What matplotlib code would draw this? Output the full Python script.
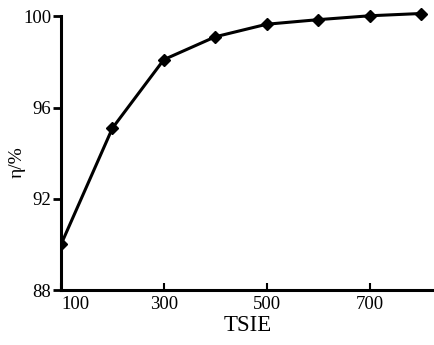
import matplotlib
matplotlib.use('Agg')
import matplotlib.pyplot as plt

tsie = [100, 200, 300, 400, 500, 600, 700, 800]
eta = [90.0, 95.1, 98.1, 99.1, 99.65, 99.85, 100.02, 100.12]
xticks = [100, 300, 500, 700]
yticks = [88, 92, 96, 100]

plt.rcParams['font.family'] = ['Liberation Serif', 'DejaVu Serif']

fig = plt.figure(figsize=(4.34, 3.45), dpi=100)
ax = fig.add_axes([0.1406, 0.159, 0.859, 0.827])
ax.plot(tsie, eta, color='black', linewidth=2.2, marker='D', markersize=6.5)

ax.set_xlim(100, 825)
ax.set_ylim(88, 100.5)
ax.spines['top'].set_visible(False)
ax.spines['right'].set_visible(False)
ax.spines['left'].set_bounds(88, 100)
ax.spines['left'].set_linewidth(2.2)
ax.spines['bottom'].set_linewidth(2.2)

ax.set_xticks(xticks)
ax.set_xticklabels([str(v) for v in xticks])
ax.set_yticks(yticks)
ax.set_yticklabels([str(v) for v in yticks])
ax.tick_params(axis='x', direction='in', length=5, width=1.5, labelsize=13.5, pad=4)
ax.tick_params(axis='y', direction='out', length=6, width=2, labelsize=13.5, pad=1)
ax.get_xticklabels()[0].set_horizontalalignment('left')

ax.set_xlabel('TSIE', fontsize=16.5, labelpad=2)
ax.set_ylabel('η/%', fontsize=14)
ax.yaxis.set_label_coords(-0.095, 0.45)

fig.savefig('out.png', dpi=100)
